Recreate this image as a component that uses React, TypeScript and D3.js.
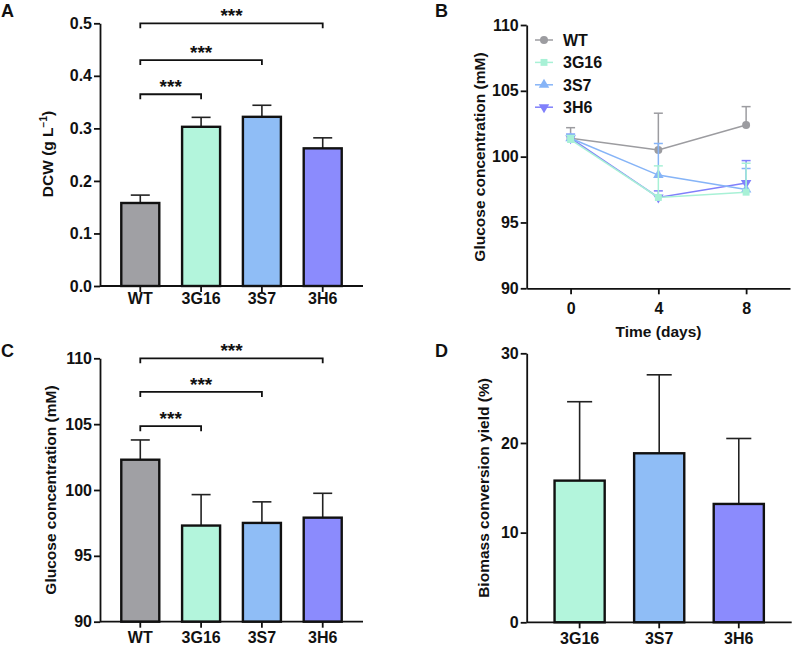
import React, { useEffect, useRef } from 'react';
import * as d3 from 'd3';

const strains = ['WT', '3G16', '3S7', '3H6'];
const barColors = ['#a0a0a4', '#b3f5dc', '#8fbdf6', '#8b8bfd'];
const lineColors = ['#9c9ca0', '#a8f1d6', '#86b4f7', '#8080fb'];

// A: dry cell weight (g/L), mean and upper SD
const dcwMean = [0.158, 0.303, 0.322, 0.262];
const dcwSd = [0.015, 0.018, 0.022, 0.02];
const sigLevelsA = [0.365, 0.43, 0.5];

// B: glucose over time
const days = [0, 4, 8];
const glcWT = [101.4, 100.5, 102.4];
const glcWTsd = [0.8, 2.8, 1.4];
const glc3G16 = [101.3, 96.9, 97.3];
const glc3G16sd = [0.3, 2.4, 2.2];
const glc3S7 = [101.4, 98.6, 97.5];
const glc3S7sd = [0.3, 2.4, 1.6];
const glc3H6 = [101.4, 96.9, 98.0];
const glc3H6sd = [0.3, 0.5, 1.7];

// C: glucose at end
const glcEnd = [102.3, 97.3, 97.5, 97.9];
const glcEndSd = [1.5, 2.35, 1.6, 1.85];
const sigLevelsC = [104.85, 107.45, 110];

// D: biomass conversion yield (%)
const yieldStrains = ['3G16', '3S7', '3H6'];
const yieldMean = [15.8, 18.85, 13.2];
const yieldSd = [8.8, 8.75, 7.3];

const FONT = '"Liberation Sans", Arial, Helvetica, sans-serif';

export default function App() {
  const svgRef = useRef<SVGSVGElement>(null);

  useEffect(() => {
    const svg = d3.select(svgRef.current);
    svg.selectAll('*').remove();

    const styleAxis = (g: any) => {
      g.selectAll('path,line').attr('stroke', '#111').attr('stroke-width', 1.8);
      g.selectAll('text')
        .attr('font-family', FONT)
        .attr('font-size', 16)
        .attr('font-weight', 'bold')
        .attr('fill', '#111');
    };

    const yTitle = (x: number, y: number, text: string, sup?: string) => {
      const t = svg
        .append('text')
        .attr('transform', `translate(${x},${y}) rotate(-90)`)
        .attr('text-anchor', 'middle')
        .attr('font-family', FONT)
        .attr('font-size', 15.5)
        .attr('font-weight', 'bold')
        .attr('fill', '#111');
      if (sup) {
        t.append('tspan').text(text);
        t.append('tspan').attr('font-size', 10).attr('dy', -6).text(sup);
        t.append('tspan').attr('dy', 6).text(')');
      } else {
        t.text(text);
      }
    };

    const panelLabel = (x: number, y: number, s: string) => {
      svg
        .append('text')
        .attr('x', x)
        .attr('y', y)
        .attr('font-family', FONT)
        .attr('font-size', 18)
        .attr('font-weight', 'bold')
        .attr('fill', '#111')
        .text(s);
    };

    // generic bar panel
    const barPanel = (opts: any) => {
      const { cats, means, sds, xr, yr, dom, ticks, fmt, colors, pad, sig } = opts;
      const x = d3.scaleBand().domain(cats).range(xr).paddingInner(opts.pi).paddingOuter(opts.po);
      const y = d3.scaleLinear().domain(dom).range(yr);
      const g = svg.append('g');
      const bw = x.bandwidth();

      // error bars (upper only)
      g.selectAll('.err')
        .data(cats)
        .join('g')
        .each(function (c: string, i: number) {
          const cx = (x(c) as number) + bw / 2;
          const e = d3.select(this);
          e.append('line')
            .attr('x1', cx).attr('x2', cx)
            .attr('y1', y(means[i])).attr('y2', y(means[i] + sds[i]))
            .attr('stroke', '#222').attr('stroke-width', 1.6);
          e.append('line')
            .attr('x1', cx - bw / 4).attr('x2', cx + bw / 4)
            .attr('y1', y(means[i] + sds[i])).attr('y2', y(means[i] + sds[i]))
            .attr('stroke', '#222').attr('stroke-width', 1.6);
        });

      g.selectAll('.bar')
        .data(cats)
        .join('rect')
        .attr('x', (c: string) => x(c) as number)
        .attr('width', bw)
        .attr('y', (_: any, i: number) => y(means[i]))
        .attr('height', (_: any, i: number) => y(dom[0]) - y(means[i]))
        .attr('fill', (_: any, i: number) => colors[i])
        .attr('stroke', '#111')
        .attr('stroke-width', 2.4);

      const xa = svg.append('g').attr('transform', `translate(0,${yr[0]})`)
        .call(d3.axisBottom(x).tickSize(6).tickSizeOuter(0).tickPadding(pad));
      xa.select('.domain').attr('d', `M${xr[0]},0H${xr[1]}`);
      styleAxis(xa);
      const ya = svg.append('g').attr('transform', `translate(${xr[0]},0)`)
        .call(d3.axisLeft(y).tickValues(ticks).tickFormat(fmt).tickSize(6).tickSizeOuter(0).tickPadding(2));
      styleAxis(ya);

      if (sig) {
        const x0 = (x(cats[0]) as number) + bw / 2;
        sig.forEach((lvl: number, i: number) => {
          const x1 = (x(cats[i + 1]) as number) + bw / 2;
          const yy = y(lvl);
          svg.append('path')
            .attr('d', `M${x0},${yy + 5}V${yy}H${x1}V${yy + 5}`)
            .attr('fill', 'none').attr('stroke', '#111').attr('stroke-width', 1.8);
          svg.append('text')
            .attr('x', (x0 + x1) / 2).attr('y', yy - 1)
            .attr('text-anchor', 'middle')
            .attr('font-family', FONT).attr('font-size', 19).attr('font-weight', 'bold')
            .attr('fill', '#111')
            .text('***');
        });
      }
    };

    // Panel A
    barPanel({
      cats: strains, means: dcwMean, sds: dcwSd, xr: [100, 363], yr: [286, 23.3], dom: [0, 0.5],
      ticks: [0, 0.1, 0.2, 0.3, 0.4, 0.5], fmt: d3.format('.1f'), colors: barColors,
      pi: 0.375, po: 0.35, pad: 1, sig: sigLevelsA,
    });
    yTitle(53, 154, 'DCW (g L', '−1');
    panelLabel(1, 17, 'A');

    // Panel C
    barPanel({
      cats: strains, means: glcEnd, sds: glcEndSd, xr: [100, 363], yr: [621.7, 358.3], dom: [90, 110],
      ticks: [90, 95, 100, 105, 110], fmt: d3.format('d'), colors: barColors,
      pi: 0.375, po: 0.35, pad: 4, sig: sigLevelsC,
    });
    yTitle(56, 490, 'Glucose concentration (mM)');
    panelLabel(1, 357, 'C');

    // Panel D
    barPanel({
      cats: yieldStrains, means: yieldMean, sds: yieldSd, xr: [526.7, 791.7], yr: [622.3, 353.3], dom: [0, 30],
      ticks: [0, 10, 20, 30], fmt: d3.format('d'), colors: barColors.slice(1),
      pi: 0.37, po: 0.35, pad: 4, sig: null,
    });
    yTitle(489, 488, 'Biomass conversion yield (%)');
    panelLabel(435, 357, 'D');

    // Panel B: line chart
    const xB = d3.scaleLinear().domain([-2, 10]).range([526.7, 790]);
    const yB = d3.scaleLinear().domain([90, 110]).range([288.3, 25]);
    const series = [
      { name: 'WT', v: glcWT, sd: glcWTsd, c: lineColors[0], sym: d3.symbolCircle, rot: 0 },
      { name: '3G16', v: glc3G16, sd: glc3G16sd, c: lineColors[1], sym: d3.symbolSquare, rot: 0 },
      { name: '3S7', v: glc3S7, sd: glc3S7sd, c: lineColors[2], sym: d3.symbolTriangle, rot: 0 },
      { name: '3H6', v: glc3H6, sd: glc3H6sd, c: lineColors[3], sym: d3.symbolTriangle, rot: 180 },
    ];
    const drawOrder = [0, 3, 2, 1];
    const line = d3.line<number>().x((_, i) => xB(days[i])).y((d) => yB(d));
    const sym = (s: any) => d3.symbol().type(s.sym).size(s.sym === d3.symbolCircle ? 50 : 48)();

    drawOrder.forEach((k) => {
      const s = series[k];
      const g = svg.append('g');
      s.v.forEach((v: number, i: number) => {
        const cx = xB(days[i]);
        const top = yB(v + s.sd[i]);
        g.append('line').attr('x1', cx).attr('x2', cx).attr('y1', yB(v)).attr('y2', top)
          .attr('stroke', s.c).attr('stroke-width', 1.5);
        g.append('line').attr('x1', cx - 4.5).attr('x2', cx + 4.5).attr('y1', top).attr('y2', top)
          .attr('stroke', s.c).attr('stroke-width', 1.5);
      });
      g.append('path').datum(s.v).attr('d', line).attr('fill', 'none')
        .attr('stroke', s.c).attr('stroke-width', 1.5);
      g.selectAll('.pt').data(s.v).join('path')
        .attr('d', sym(s))
        .attr('transform', (d: number, i: number) => `translate(${xB(days[i])},${yB(d)}) rotate(${s.rot})`)
        .attr('fill', s.c);
    });

    const xaB = svg.append('g').attr('transform', 'translate(0,288.3)')
      .call(d3.axisBottom(xB).tickValues(days).tickFormat(d3.format('d')).tickSize(6).tickSizeOuter(0).tickPadding(8));
    styleAxis(xaB);
    const yaB = svg.append('g').attr('transform', 'translate(526.7,0)')
      .call(d3.axisLeft(yB).tickValues([90, 95, 100, 105, 110]).tickSize(6).tickSizeOuter(0).tickPadding(2));
    styleAxis(yaB);

    svg.append('text').attr('x', 658.5).attr('y', 337).attr('text-anchor', 'middle')
      .attr('font-family', FONT).attr('font-size', 15.5).attr('font-weight', 'bold').attr('fill', '#111')
      .text('Time (days)');
    yTitle(485, 157, 'Glucose concentration (mM)');
    panelLabel(435, 17, 'B');

    // legend
    const lg = svg.append('g');
    series.forEach((s, i) => {
      const ly = 40 + i * 22.4;
      lg.append('line').attr('x1', 535).attr('x2', 553).attr('y1', ly).attr('y2', ly)
        .attr('stroke', s.c).attr('stroke-width', 1.5);
      lg.append('path').attr('d', sym(s)).attr('transform', `translate(544,${ly}) rotate(${s.rot})`).attr('fill', s.c);
      lg.append('text').attr('x', 563).attr('y', ly).attr('dy', '0.36em')
        .attr('font-family', FONT).attr('font-size', 16).attr('font-weight', 'bold').attr('fill', '#111')
        .text(s.name);
    });
  }, []);

  return (
    <svg
      ref={svgRef}
      width={797}
      height={648}
      style={{ position: 'absolute', left: 0, top: 0, background: '#fff' }}
    />
  );
}
